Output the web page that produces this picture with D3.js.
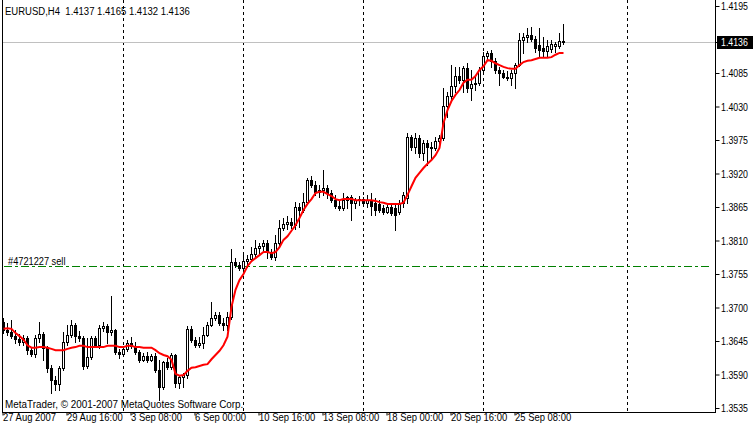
<!DOCTYPE html>
<html><head><meta charset="utf-8">
<script src="https://cdn.jsdelivr.net/npm/d3@7"></script>
<style>
html,body{margin:0;padding:0;background:#fff;overflow:hidden}
svg{display:block}
text{font-family:"Liberation Sans",Arial,sans-serif;font-size:11px;fill:#000;white-space:pre}
</style></head><body>
<svg id="c" width="753" height="429"></svg>
<script>
const titleText = "EURUSD,H4  1.4137 1.4165 1.4132 1.4136";
const copyrightText = "MetaTrader, \u00a9 2001-2007 MetaQuotes Software Corp.";
const orderLabel = "#4721227 sell";
const orderPrice = 1.3768;
const currentPrice = 1.4136;

const opens = [
1.3676,1.3663,1.3660,1.3653,1.3648,1.3643,1.3650,1.3630,1.3624,1.3650,
1.3656,1.3634,1.3601,1.3581,1.3574,1.3601,1.3643,1.3655,1.3671,1.3653,
1.3650,1.3604,1.3619,1.3650,1.3638,1.3666,1.3670,1.3660,1.3663,1.3627,
1.3624,1.3632,1.3642,1.3637,1.3627,1.3614,1.3620,1.3614,1.3620,1.3597,
1.3569,1.3611,1.3602,1.3622,1.3576,1.3586,1.3589,1.3665,1.3647,1.3638,
1.3642,1.3655,1.3671,1.3683,1.3688,1.3675,1.3671,1.3684,1.3775,1.3770,
1.3765,1.3776,1.3780,1.3788,1.3798,1.3801,1.3806,1.3791,1.3783,1.3806,
1.3831,1.3837,1.3840,1.3835,1.3865,1.3860,1.3873,1.3909,1.3901,1.3890,
1.3893,1.3896,1.3888,1.3876,1.3867,1.3863,1.3876,1.3881,1.3872,1.3876,
1.3878,1.3872,1.3876,1.3872,1.3870,1.3863,1.3857,1.3865,1.3863,1.3857,
1.3872,1.3880,1.3980,1.3964,1.3978,1.3954,1.3970,1.3964,1.3962,1.3973,
1.3978,1.4031,1.4047,1.4064,1.4080,1.4074,1.4093,1.4060,1.4067,1.4069,
1.4090,1.4113,1.4118,1.4105,1.4090,1.4085,1.4078,1.4077,1.4085,1.4098,
1.4139,1.4144,1.4147,1.4141,1.4131,1.4126,1.4121,1.4124,1.4129,1.4129,
1.4137];
const highs = [
1.3683,1.3675,1.3679,1.3663,1.3656,1.3655,1.3653,1.3635,1.3655,1.3676,
1.3660,1.3637,1.3606,1.3588,1.3604,1.3660,1.3671,1.3679,1.3675,1.3661,
1.3653,1.3650,1.3653,1.3653,1.3671,1.3676,1.3673,1.3719,1.3665,1.3632,
1.3637,1.3647,1.3652,1.3643,1.3630,1.3625,1.3627,1.3624,1.3625,1.3614,
1.3612,1.3617,1.3625,1.3624,1.3589,1.3592,1.3670,1.3670,1.3652,1.3652,
1.3668,1.3676,1.3709,1.3693,1.3693,1.3683,1.3693,1.3796,1.3781,1.3775,
1.3786,1.3786,1.3799,1.3811,1.3806,1.3811,1.3811,1.3796,1.3819,1.3844,
1.3847,1.3850,1.3847,1.3873,1.3872,1.3888,1.3913,1.3916,1.3908,1.3901,
1.3926,1.3901,1.3893,1.3885,1.3876,1.3888,1.3883,1.3885,1.3880,1.3883,
1.3881,1.3885,1.3888,1.3880,1.3876,1.3868,1.3868,1.3872,1.3872,1.3876,
1.3890,1.3986,1.3983,1.3986,1.3983,1.3975,1.3975,1.3972,1.3980,1.3983,
1.4060,1.4054,1.4098,1.4095,1.4095,1.4096,1.4101,1.4090,1.4082,1.4095,
1.4119,1.4121,1.4123,1.4110,1.4095,1.4090,1.4088,1.4090,1.4101,1.4151,
1.4151,1.4159,1.4161,1.4146,1.4159,1.4144,1.4139,1.4139,1.4136,1.4151,
1.4165];
const lows = [
1.3658,1.3655,1.3650,1.3642,1.3638,1.3638,1.3624,1.3620,1.3619,1.3643,
1.3614,1.3594,1.3560,1.3565,1.3565,1.3597,1.3638,1.3652,1.3643,1.3645,
1.3599,1.3601,1.3615,1.3635,1.3634,1.3661,1.3642,1.3655,1.3624,1.3617,
1.3620,1.3629,1.3634,1.3624,1.3611,1.3612,1.3611,1.3612,1.3594,1.3548,
1.3566,1.3599,1.3599,1.3569,1.3568,1.3569,1.3584,1.3643,1.3635,1.3635,
1.3634,1.3653,1.3670,1.3679,1.3671,1.3663,1.3663,1.3681,1.3766,1.3762,
1.3762,1.3766,1.3776,1.3785,1.3789,1.3794,1.3781,1.3780,1.3778,1.3803,
1.3827,1.3829,1.3831,1.3829,1.3832,1.3857,1.3870,1.3898,1.3885,1.3881,
1.3885,1.3880,1.3873,1.3863,1.3860,1.3860,1.3863,1.3844,1.3863,1.3868,
1.3867,1.3865,1.3852,1.3852,1.3857,1.3853,1.3855,1.3852,1.3827,1.3853,
1.3865,1.3872,1.3959,1.3954,1.3947,1.3942,1.3934,1.3945,1.3959,1.3970,
1.3975,1.4013,1.4041,1.4054,1.4069,1.4054,1.4054,1.4041,1.4057,1.4065,
1.4087,1.4106,1.4095,1.4085,1.4065,1.4077,1.4074,1.4065,1.4060,1.4096,
1.4118,1.4136,1.4138,1.4119,1.4111,1.4111,1.4111,1.4119,1.4119,1.4126,
1.4132];
const closes = [
1.3663,1.3660,1.3653,1.3648,1.3643,1.3650,1.3630,1.3624,1.3650,1.3656,
1.3634,1.3601,1.3581,1.3574,1.3601,1.3643,1.3655,1.3671,1.3653,1.3650,
1.3604,1.3619,1.3650,1.3638,1.3666,1.3670,1.3660,1.3663,1.3627,1.3624,
1.3632,1.3642,1.3637,1.3627,1.3614,1.3620,1.3614,1.3620,1.3597,1.3569,
1.3611,1.3602,1.3622,1.3576,1.3586,1.3589,1.3665,1.3647,1.3638,1.3642,
1.3655,1.3671,1.3683,1.3688,1.3675,1.3671,1.3684,1.3775,1.3770,1.3765,
1.3776,1.3780,1.3788,1.3798,1.3801,1.3806,1.3791,1.3783,1.3806,1.3831,
1.3837,1.3840,1.3835,1.3865,1.3860,1.3873,1.3909,1.3901,1.3890,1.3893,
1.3896,1.3888,1.3876,1.3867,1.3863,1.3876,1.3881,1.3872,1.3876,1.3878,
1.3872,1.3876,1.3867,1.3860,1.3860,1.3857,1.3865,1.3855,1.3852,1.3872,
1.3885,1.3980,1.3964,1.3978,1.3954,1.3970,1.3964,1.3962,1.3973,1.3978,
1.4031,1.4047,1.4064,1.4080,1.4074,1.4093,1.4060,1.4067,1.4069,1.4090,
1.4113,1.4118,1.4105,1.4090,1.4085,1.4078,1.4077,1.4085,1.4098,1.4139,
1.4144,1.4147,1.4141,1.4126,1.4123,1.4121,1.4129,1.4133,1.4133,1.4138,
1.4136];
const maValues = [
1.3665,1.3666,1.3665,1.3658,1.3653,1.3647,1.3638,1.3634,1.3634,1.3635,
1.3635,1.3634,1.3632,1.3630,1.3630,1.3630,1.3632,1.3634,1.3635,1.3637,
1.3637,1.3635,1.3635,1.3635,1.3635,1.3635,1.3637,1.3637,1.3637,1.3635,
1.3635,1.3637,1.3637,1.3635,1.3635,1.3634,1.3634,1.3634,1.3630,1.3625,
1.3622,1.3620,1.3614,1.3591,1.3588,1.3589,1.3596,1.3601,1.3602,1.3604,
1.3606,1.3607,1.3615,1.3622,1.3629,1.3638,1.3652,1.3701,1.3729,1.3745,
1.3755,1.3768,1.3776,1.3781,1.3786,1.3791,1.3791,1.3789,1.3791,1.3799,
1.3811,1.3817,1.3826,1.3835,1.3847,1.3860,1.3870,1.3878,1.3888,1.3890,
1.3890,1.3886,1.3883,1.3878,1.3876,1.3878,1.3878,1.3878,1.3876,1.3876,
1.3876,1.3876,1.3876,1.3875,1.3873,1.3872,1.3870,1.3870,1.3870,1.3870,
1.3872,1.3885,1.3899,1.3913,1.3921,1.3929,1.3936,1.3942,1.3950,1.3962,
1.4003,1.4024,1.4039,1.4049,1.4057,1.4069,1.4074,1.4074,1.4080,1.4090,
1.4096,1.4106,1.4105,1.4101,1.4098,1.4095,1.4093,1.4092,1.4092,1.4098,
1.4103,1.4105,1.4106,1.4108,1.4110,1.4110,1.4110,1.4111,1.4115,1.4118,
1.4118];

const xTickIndex = [0,16,32,48,64,80,96,112,128];
const xTickLabels = ["27 Aug 2007","29 Aug 16:00","3 Sep 08:00","6 Sep 00:00","10 Sep 16:00","13 Sep 08:00","18 Sep 00:00","20 Sep 16:00","25 Sep 08:00"];
const yTickValues = [1.4195,1.4085,1.4030,1.3975,1.3920,1.3865,1.3810,1.3755,1.3700,1.3645,1.3590,1.3535];
const separatorIndex = [30,60,90,120,156];

const plotLeft = 2, plotRight = 715, plotBottom = 412;
const svg = d3.select("#c");

const x = d3.scaleLinear().domain([0,178]).range([3.5,715.5]);
const y = d3.scaleLinear().domain([1.3535,1.4195]).range([408,6]);
const ry = v => Math.round(y(v));

// week separators (dashed)
svg.append("g").selectAll("line").data(separatorIndex).join("line")
  .attr("x1", d => x(d)).attr("x2", d => x(d))
  .attr("y1", 0).attr("y2", plotBottom)
  .attr("stroke", "#000").attr("stroke-width", 1).attr("stroke-dasharray", "3,3")
  .attr("shape-rendering", "crispEdges");

// current price line
svg.append("line")
  .attr("x1", plotLeft).attr("x2", plotRight)
  .attr("y1", ry(currentPrice) + 0.5).attr("y2", ry(currentPrice) + 0.5)
  .attr("stroke", "#c0c0c0").attr("stroke-width", 1);

// order line
svg.append("line")
  .attr("x1", plotLeft + 2).attr("x2", plotRight - 4)
  .attr("y1", ry(orderPrice) + 0.5).attr("y2", ry(orderPrice) + 0.5)
  .attr("stroke", "#008000").attr("stroke-width", 1).attr("stroke-dasharray", "8,3,3,3");
svg.append("text").attr("transform", `translate(8,${ry(orderPrice) - 1}) scale(0.84,1)`).text(orderLabel);

// candles
const bars = d3.range(opens.length).map(i => ({i, o:opens[i], h:highs[i], l:lows[i], c:closes[i]}));
const g = svg.append("g").attr("shape-rendering", "crispEdges");
g.selectAll("line.wick").data(bars).join("line").attr("class","wick")
  .attr("x1", d => x(d.i)).attr("x2", d => x(d.i))
  .attr("y1", d => ry(d.h)).attr("y2", d => ry(d.l) + 1)
  .attr("stroke", "#000").attr("stroke-width", 1);
bars.forEach(d => {
  const top = ry(Math.max(d.o, d.c)), bot = ry(Math.min(d.o, d.c)) + 1;
  const cx = x(d.i);
  if (d.c >= d.o && bot - top > 2) {
    g.append("rect").attr("x", cx - 1).attr("y", top + 0.5).attr("width", 2).attr("height", bot - top - 1)
      .attr("fill", "#fff").attr("stroke", "#000").attr("stroke-width", 1);
  } else {
    g.append("rect").attr("x", cx - 1.5).attr("y", top).attr("width", 3).attr("height", Math.max(1, bot - top)).attr("fill", "#000");
  }
});

// moving average
svg.append("path").datum(maValues)
  .attr("d", d3.line().x((d,i) => x(i)).y(d => y(d)))
  .attr("fill", "none").attr("stroke", "#ff0000").attr("stroke-width", 2);

// borders
svg.append("line").attr("x1", plotLeft + 0.5).attr("x2", plotLeft + 0.5).attr("y1", 0).attr("y2", plotBottom + 1).attr("stroke", "#000");
svg.append("line").attr("x1", plotRight + 0.5).attr("x2", plotRight + 0.5).attr("y1", 0).attr("y2", plotBottom + 1).attr("stroke", "#000");
svg.append("line").attr("x1", plotLeft).attr("x2", plotRight + 1).attr("y1", plotBottom + 0.5).attr("y2", plotBottom + 0.5).attr("stroke", "#000");

// y axis
const gy = svg.append("g").attr("transform", `translate(${plotRight + 0.5},0)`)
  .call(d3.axisRight(y).tickValues(yTickValues).tickSize(4).tickSizeOuter(0).tickPadding(3).tickFormat(d3.format(".4f")));
gy.select(".domain").remove();
gy.attr("font-family", null).attr("font-size", null);
gy.selectAll("text").attr("transform", "scale(0.8,1)");

// current price label
const cpY = ry(currentPrice);
svg.append("line").attr("x1", plotRight).attr("x2", plotRight + 4).attr("y1", cpY + 0.5).attr("y2", cpY + 0.5).attr("stroke", "#000");
svg.append("rect").attr("x", 717).attr("y", cpY - 6).attr("width", 36).attr("height", 13).attr("fill", "#000");
svg.append("text").attr("transform", `translate(721,${cpY + 0.5}) scale(0.8,1)`).attr("dy", "0.32em")
  .style("fill", "#fff").text(d3.format(".4f")(currentPrice));

// x axis
const gx = svg.append("g").attr("transform", `translate(-1,${plotBottom + 0.5})`)
  .call(d3.axisBottom(x).tickValues(xTickIndex).tickSize(3).tickSizeOuter(0).tickFormat((d,i) => xTickLabels[i]));
gx.select(".domain").remove();
gx.attr("font-family", null).attr("font-size", null);
gx.selectAll("text").attr("text-anchor", "start").attr("x", 0).attr("y", 1).attr("transform", "scale(0.86,1)");

// texts
svg.append("text").attr("transform", "translate(5,15) scale(0.867,1)").text(titleText);
svg.append("text").attr("transform", "translate(5,408) scale(0.9,1)").text(copyrightText);
</script>
</body></html>
